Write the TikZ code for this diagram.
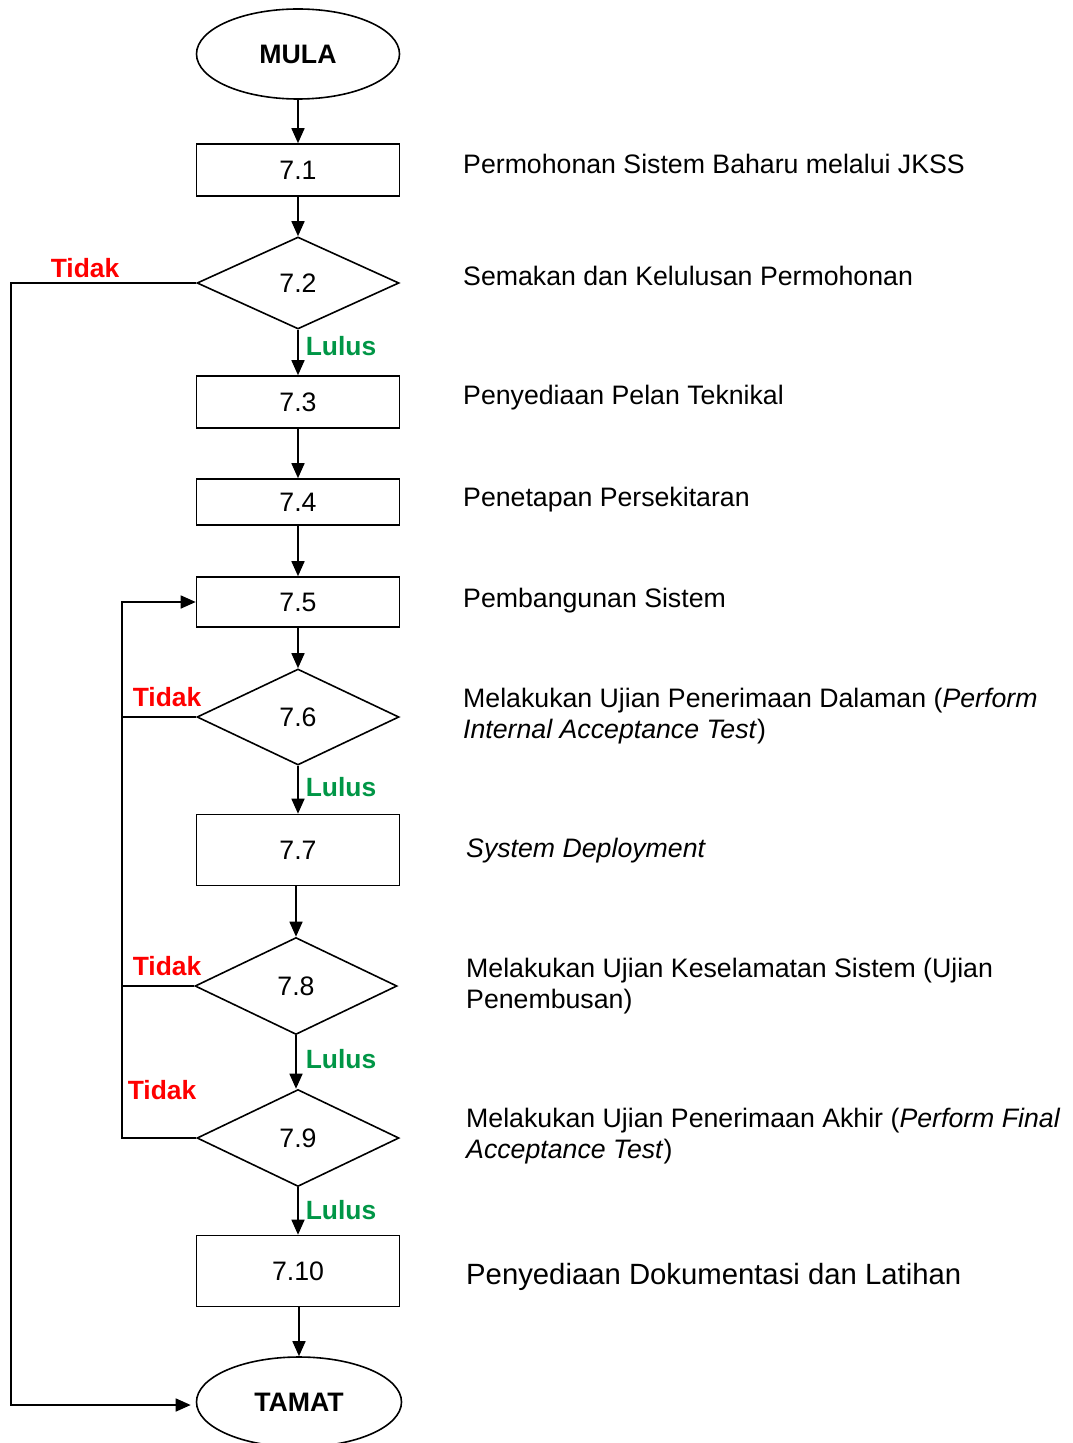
\documentclass[tikz,border=0pt]{standalone}
\usepackage{fontspec}
\setmainfont{Liberation Sans}
\usetikzlibrary{shapes.geometric,arrows.meta,calc}
\definecolor{notred}{RGB}{255,0,0}
\definecolor{passgreen}{RGB}{0,150,70}
\begin{document}
\begin{tikzpicture}[x=1bp,y=-1bp,
  every node/.style={font=\fontsize{26.8}{31}\selectfont},
  line/.style={line width=1.6bp,draw=black},
  flow/.style={line,-{Triangle[length=15bp,width=13bp]}},
  procbox/.style={line,rectangle,minimum width=203bp,inner sep=0pt},
  decide/.style={line,diamond,minimum width=202bp,minimum height=94bp,inner sep=0pt},
  terminal/.style={line,ellipse,minimum width=203bp,minimum height=90bp,inner sep=0pt,font=\fontsize{26.8}{31}\selectfont\bfseries},
  notlbl/.style={text=notred,font=\fontsize{26.5}{31}\selectfont\bfseries},
  passlbl/.style={text=passgreen,font=\fontsize{26.5}{31}\selectfont\bfseries},
  desc/.style={anchor=base west,align=left,inner sep=0pt}]
\useasboundingbox (0,0) rectangle (1072,1443);

% main flow nodes
\node[terminal] (mula) at (298,54) {MULA};
\node[procbox,minimum height=52bp] (b71) at (298,170) {7.1};
\node[decide,minimum height=92bp] (d72) at (298,283) {7.2};
\node[procbox,minimum height=52bp] (b73) at (298,402) {7.3};
\node[procbox,minimum height=46bp] (b74) at (298,502) {7.4};
\node[procbox,minimum height=50bp] (b75) at (298,602) {7.5};
\node[decide,minimum height=96bp] (d76) at (298,717) {7.6};
\node[procbox,minimum height=71bp] (b77) at (298,850) {7.7};
\node[decide,minimum height=97bp] (d78) at (296,986) {7.8};
\node[decide,minimum height=97bp] (d79) at (298,1138) {7.9};
\node[procbox,minimum height=71bp] (b710) at (298,1271) {7.10};
\node[terminal,minimum width=205bp] (tamat) at (299,1402) {TAMAT};

% routing columns for the "Tidak" branches
\coordinate (outer) at (11,0);
\coordinate (inner) at (122,0);

% straight-down connectors
\draw[flow] (mula) -- (b71);
\draw[flow] (b71) -- (d72);
\draw[flow] (d72) -- (b73);
\draw[flow] (b73) -- (b74);
\draw[flow] (b74) -- (b75);
\draw[flow] (b75) -- (d76);
\draw[flow] (d76) -- (b77);
\draw[flow] (b77.south -| d78.north) -- (d78);
\draw[flow] (d78.south) -- (d79.north -| d78.south);
\draw[flow] (d79) -- (b710);
\draw[flow] (b710.south -| tamat.north) -- (tamat);

% rejection of the application goes straight to the end
\draw[flow,shorten >=5bp] (d72.west) -- (d72.west -| outer) |- ($(tamat.west)+(0,3)$);

% failed tests loop back to development
\draw[line] (d76.west) -- (d76.west -| inner);
\draw[line] (d78.west) -- (d78.west -| inner);
\draw[flow] (d79.west) -- (d79.west -| inner) |- (b75.west);

% branch labels
\node[notlbl] (t72) at (85,268) {Tidak};
\node[notlbl] (t76) at (167,697) {Tidak};
\node[notlbl] (t78) at (167,966) {Tidak};
\node[notlbl] (t79) at (162,1090) {Tidak};
\node[passlbl] (l72) at (341,346) {Lulus};
\node[passlbl] (l76) at (341,787) {Lulus};
\node[passlbl] (l78) at (341,1059) {Lulus};
\node[passlbl] (l79) at (341,1210) {Lulus};

% step descriptions (base anchor of two-line nodes sits on the second line)
\node[desc] (s71) at (463,174) {Permohonan Sistem Baharu melalui JKSS};
\node[desc] (s72) at (463,285) {Semakan dan Kelulusan Permohonan};
\node[desc] (s73) at (463,404) {Penyediaan Pelan Teknikal};
\node[desc] (s74) at (463,506) {Penetapan Persekitaran};
\node[desc] (s75) at (463,607) {Pembangunan Sistem};
\node[desc] (s76) at (463,738) {Melakukan Ujian Penerimaan Dalaman (\textit{Perform}\\\textit{Internal Acceptance Test})};
\node[desc] (s77) at (466,857) {\textit{System Deployment}};
\node[desc] (s78) at (466,1008) {Melakukan Ujian Keselamatan Sistem (Ujian\\Penembusan)};
\node[desc] (s79) at (466,1158) {Melakukan Ujian Penerimaan Akhir (\textit{Perform Final}\\\textit{Acceptance Test})};
\node[desc,font=\fontsize{29.4}{34}\selectfont] (s710) at (466,1284) {Penyediaan Dokumentasi dan Latihan};
\end{tikzpicture}
\end{document}
